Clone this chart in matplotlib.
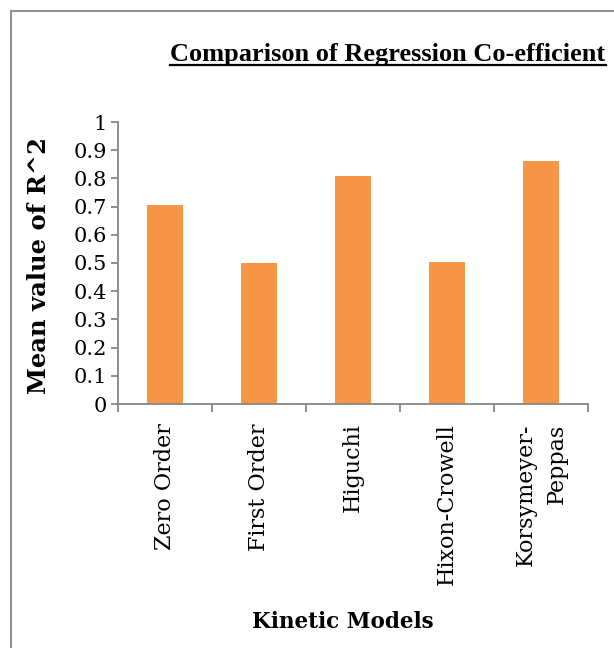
import matplotlib
matplotlib.use("Agg")
import matplotlib.pyplot as plt
from matplotlib.lines import Line2D
import numpy as np

categories = ["Zero Order", "First Order", "Higuchi", "Hixon-Crowell", "Korsymeyer-\nPeppas"]
values = [0.707, 0.50, 0.81, 0.503, 0.86]
yticks = [0, 0.1, 0.2, 0.3, 0.4, 0.5, 0.6, 0.7, 0.8, 0.9, 1]
ytick_labels = ["0", "0.1", "0.2", "0.3", "0.4", "0.5", "0.6", "0.7", "0.8", "0.9", "1"]

W, H = 614, 648
fig = plt.figure(figsize=(W / 100, H / 100), dpi=100)
fig.patch.set_facecolor("white")

ax = fig.add_axes([118 / W, 1 - 404 / H, (588 - 118) / W, (404 - 122) / H])
x = np.arange(len(categories))
ax.bar(x, values, width=0.39, color="#F79646", edgecolor="none", zorder=2)

ax.set_xlim(-0.5, len(categories) - 0.5)
ax.set_ylim(0, 1)

gray = "#868686"
for s in ["top", "right"]:
    ax.spines[s].set_visible(False)
for s in ["left", "bottom"]:
    ax.spines[s].set_color(gray)
    ax.spines[s].set_linewidth(1.3)

ax.set_yticks(yticks)
ax.set_yticklabels(ytick_labels, fontfamily="DejaVu Serif", fontsize=15)
ax.tick_params(axis="y", direction="out", length=5, width=1.3, color=gray, pad=3)

ax.set_xticks(np.arange(-0.5, len(categories), 1.0))
ax.set_xticklabels([])
ax.tick_params(axis="x", direction="out", length=6, width=1.3, color=gray)
ax.set_xticks(x, minor=True)
ax.set_xticklabels(categories, minor=True, rotation=90, fontfamily="DejaVu Serif",
                   fontsize=16, va="top", ha="center", multialignment="right",
                   linespacing=1.55)
ax.tick_params(axis="x", which="minor", length=0, pad=14)

fig.text(39 / W, 1 - 266 / H, "Mean value of R^2", fontfamily="DejaVu Serif",
         fontweight="bold", fontsize=17.5, rotation=90, ha="center", va="center")

fig.text(343 / W, 1 - 622 / H, "Kinetic Models", fontfamily="DejaVu Serif",
         fontweight="bold", fontsize=15.5, ha="center", va="center")

title = fig.text(388 / W, 1 - 54 / H, "Comparison of Regression Co-efficient",
                 fontfamily="Liberation Serif", fontweight="bold", fontsize=19,
                 ha="center", va="center")

# frame around figure
fig.add_artist(Line2D([11 / W, 1.0], [1 - 11 / H, 1 - 11 / H], color=gray, lw=1.3,
                      transform=fig.transFigure))
fig.add_artist(Line2D([11 / W, 11 / W], [1 - 11 / H, 0.0], color=gray, lw=1.3,
                      transform=fig.transFigure))

# underline title
fig.canvas.draw()
bb = title.get_window_extent(renderer=fig.canvas.get_renderer())
bbf = bb.transformed(fig.transFigure.inverted())
uy = bbf.y0 + 1.0 / H
fig.add_artist(Line2D([bbf.x0, bbf.x1], [uy, uy], color="black", lw=1.6,
                      transform=fig.transFigure))

fig.savefig("out.png", dpi=100, facecolor="white")
